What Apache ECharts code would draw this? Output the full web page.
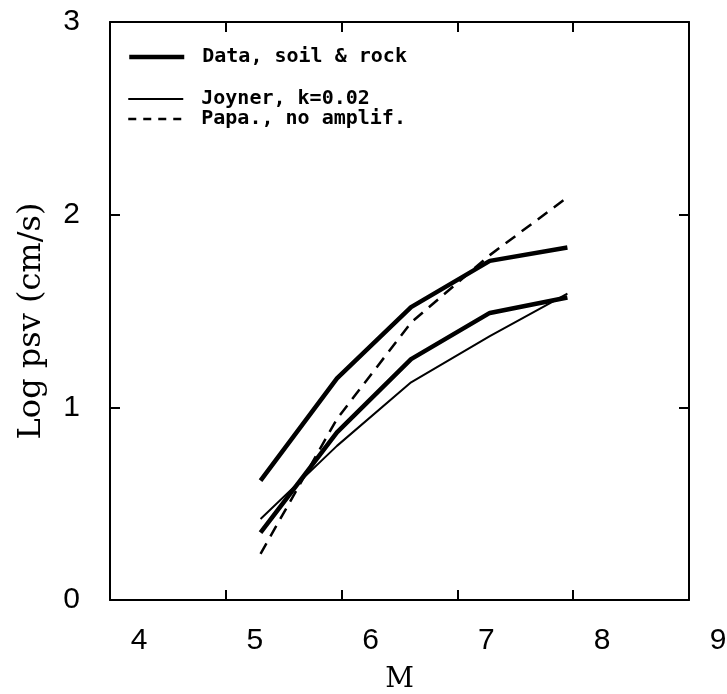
<!DOCTYPE html>
<html style="height: 100%">
<head>
  <meta charset="utf-8">
</head>
<body style="height: 100%; margin: 0; background: #fff;">
  <div id="container" style="width: 727px; height: 694px;"></div>
  <script type="text/javascript" src="https://cdn.jsdelivr.net/npm/echarts@6/dist/echarts.min.js"></script>
  <script type="text/javascript">
    // magnitude bins and log psv values
    var magnitudes = [5.30, 5.96, 6.60, 7.28, 7.95];
    var dataUpper = [0.62, 1.15, 1.52, 1.76, 1.83];
    var dataLower = [0.35, 0.87, 1.25, 1.49, 1.57];
    var joyner = [0.42, 0.80, 1.13, 1.37, 1.59];
    var papa = [0.24, 0.94, 1.44, 1.79, 2.09];

    var xTicks = [4, 5, 6, 7, 8, 9];
    var yTicks = [0, 1, 2, 3];

    function pairs(ys) {
      return magnitudes.map(function (m, i) { return [m, ys[i]]; });
    }

    var dom = document.getElementById('container');
    var myChart = echarts.init(dom, null, { renderer: 'canvas' });

    var axisLine = { show: true, onZero: false, lineStyle: { color: '#000', width: 2 } };
    var axisTick = { show: true, inside: true, length: 10, lineStyle: { color: '#000', width: 2 } };
    var tickFont = { color: '#000', fontFamily: 'Liberation Sans', fontSize: 30 };
    var legendFont = { fontFamily: 'DejaVu Sans Mono', fontWeight: 'bold', fontSize: 20, color: '#000', lineHeight: 20, padding: [0, 0, 0, 13] };

    var option = {
      backgroundColor: '#fff',
      animation: false,
      grid: { left: 110, right: 38, top: 22, bottom: 94, outerBoundsMode: 'none', containLabel: false },
      legend: [
        {
          data: [{ name: 'Data, soil & rock', lineStyle: { width: 4.5 } }],
          left: 127, top: 47, padding: 0,
          itemWidth: 55, itemHeight: 14,
          itemStyle: { opacity: 0 },
          textStyle: legendFont
        },
        {
          data: [
            { name: 'Joyner, k=0.02', lineStyle: { width: 2 } },
            { name: 'Papa., no amplif.', lineStyle: { width: 2.5, type: [8, 7] } }
          ],
          orient: 'vertical',
          left: 127, top: 89, padding: 0, itemGap: 0,
          itemWidth: 55, itemHeight: 14,
          itemStyle: { opacity: 0 },
          textStyle: legendFont
        }
      ],
      xAxis: [
        {
          type: 'value', position: 'bottom',
          min: xTicks[0], max: xTicks[xTicks.length - 1], interval: 1,
          name: 'M', nameLocation: 'middle', nameGap: 66,
          nameTextStyle: { fontFamily: 'DejaVu Serif', fontSize: 28, color: '#000' },
          axisLine: axisLine, axisTick: axisTick, splitLine: { show: false },
          axisLabel: Object.assign({ margin: 26, padding: [0, 0, 0, 58] }, tickFont)
        },
        {
          type: 'value', position: 'top',
          min: xTicks[0], max: xTicks[xTicks.length - 1], interval: 1,
          axisLine: axisLine, axisTick: axisTick, splitLine: { show: false },
          axisLabel: { show: false }
        }
      ],
      yAxis: [
        {
          type: 'value', position: 'left',
          min: yTicks[0], max: yTicks[yTicks.length - 1], interval: 1,
          name: 'Log psv (cm/s)', nameLocation: 'middle', nameGap: 62,
          nameTextStyle: { fontFamily: 'DejaVu Serif', fontSize: 32, color: '#000', padding: [0, 20, 0, 0] },
          axisLine: axisLine, axisTick: axisTick, splitLine: { show: false },
          axisLabel: Object.assign({ margin: 30 }, tickFont)
        },
        {
          type: 'value', position: 'right',
          min: yTicks[0], max: yTicks[yTicks.length - 1], interval: 1,
          axisLine: axisLine, axisTick: axisTick, splitLine: { show: false },
          axisLabel: { show: false }
        }
      ],
      series: [
        {
          name: 'Data, soil & rock', type: 'line', symbol: 'none',
          data: pairs(dataUpper),
          lineStyle: { color: '#000', width: 4.5 }, itemStyle: { color: '#000' }
        },
        {
          name: 'Data, soil & rock', type: 'line', symbol: 'none',
          data: pairs(dataLower),
          lineStyle: { color: '#000', width: 4.5 }, itemStyle: { color: '#000' }
        },
        {
          name: 'Joyner, k=0.02', type: 'line', symbol: 'none',
          data: pairs(joyner),
          lineStyle: { color: '#000', width: 2 }, itemStyle: { color: '#000' }
        },
        {
          name: 'Papa., no amplif.', type: 'line', symbol: 'none',
          data: pairs(papa),
          lineStyle: { color: '#000', width: 2.5, type: [12, 8] }, itemStyle: { color: '#000' }
        }
      ]
    };

    myChart.setOption(option);
    window.addEventListener('resize', myChart.resize);
  </script>
</body>
</html>
